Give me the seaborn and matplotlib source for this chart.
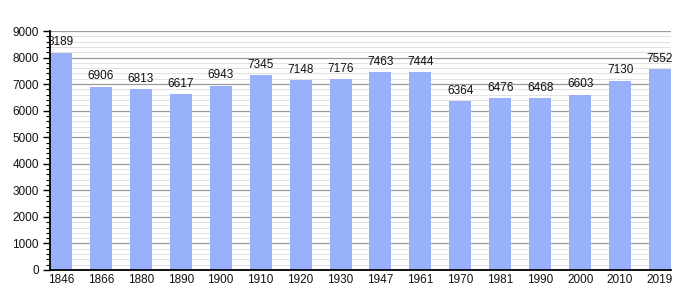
import matplotlib
matplotlib.use("Agg")
import matplotlib.pyplot as plt
from matplotlib.ticker import MultipleLocator
import seaborn as sns
import pandas as pd

years = ["1846", "1866", "1880", "1890", "1900", "1910", "1920", "1930", "1947",
         "1961", "1970", "1981", "1990", "2000", "2010", "2019"]
population = [8189, 6906, 6813, 6617, 6943, 7345, 7148, 7176, 7463,
              7444, 6364, 6476, 6468, 6603, 7130, 7552]

df = pd.DataFrame({"year": years, "population": population})

sns.set_style("white")
plt.rcParams["font.family"] = ["Liberation Sans", "DejaVu Sans"]

fig = plt.figure(figsize=(7, 3), dpi=100)
ax = fig.add_axes([50 / 700, 30 / 300, 621 / 700, 239 / 300])

bw = 0.55
sns.barplot(data=df, x="year", y="population", color="#99b0fb", saturation=1,
            width=bw, ax=ax, linewidth=0, edgecolor="none", zorder=2)

ax.set_xlim(-bw / 2, len(years) - 1 + bw / 2)
ax.set_ylim(0, 9000)
ax.yaxis.set_major_locator(MultipleLocator(1000))
ax.yaxis.set_minor_locator(MultipleLocator(200))
ax.grid(which="major", axis="y", color="#9a9a9a", linewidth=0.9, zorder=0)
ax.grid(which="minor", axis="y", color="#dcdcdc", linewidth=0.6, zorder=0)
ax.set_axisbelow(True)

for s in ["top", "right"]:
    ax.spines[s].set_visible(False)
for s in ["left", "bottom"]:
    ax.spines[s].set_color("black")
    ax.spines[s].set_linewidth(1.3)
    ax.spines[s].set_zorder(4)

ax.tick_params(axis="y", which="major", length=5, width=1, color="black",
               labelsize=8.5, left=True, direction="out", pad=3, labelcolor="#111111")
ax.tick_params(axis="y", which="minor", length=3, width=0.8, color="black", left=True)
ax.tick_params(axis="x", length=0, labelsize=8.5, pad=3, labelcolor="#111111")
ax.set_xlabel("")
ax.set_ylabel("")

for i, v in enumerate(population):
    ax.annotate(str(v), (i, v), xytext=(0, 3), textcoords="offset points",
                ha="center", va="bottom", fontsize=8.5, color="#111111", zorder=5)

fig.savefig("out.png", dpi=100)
